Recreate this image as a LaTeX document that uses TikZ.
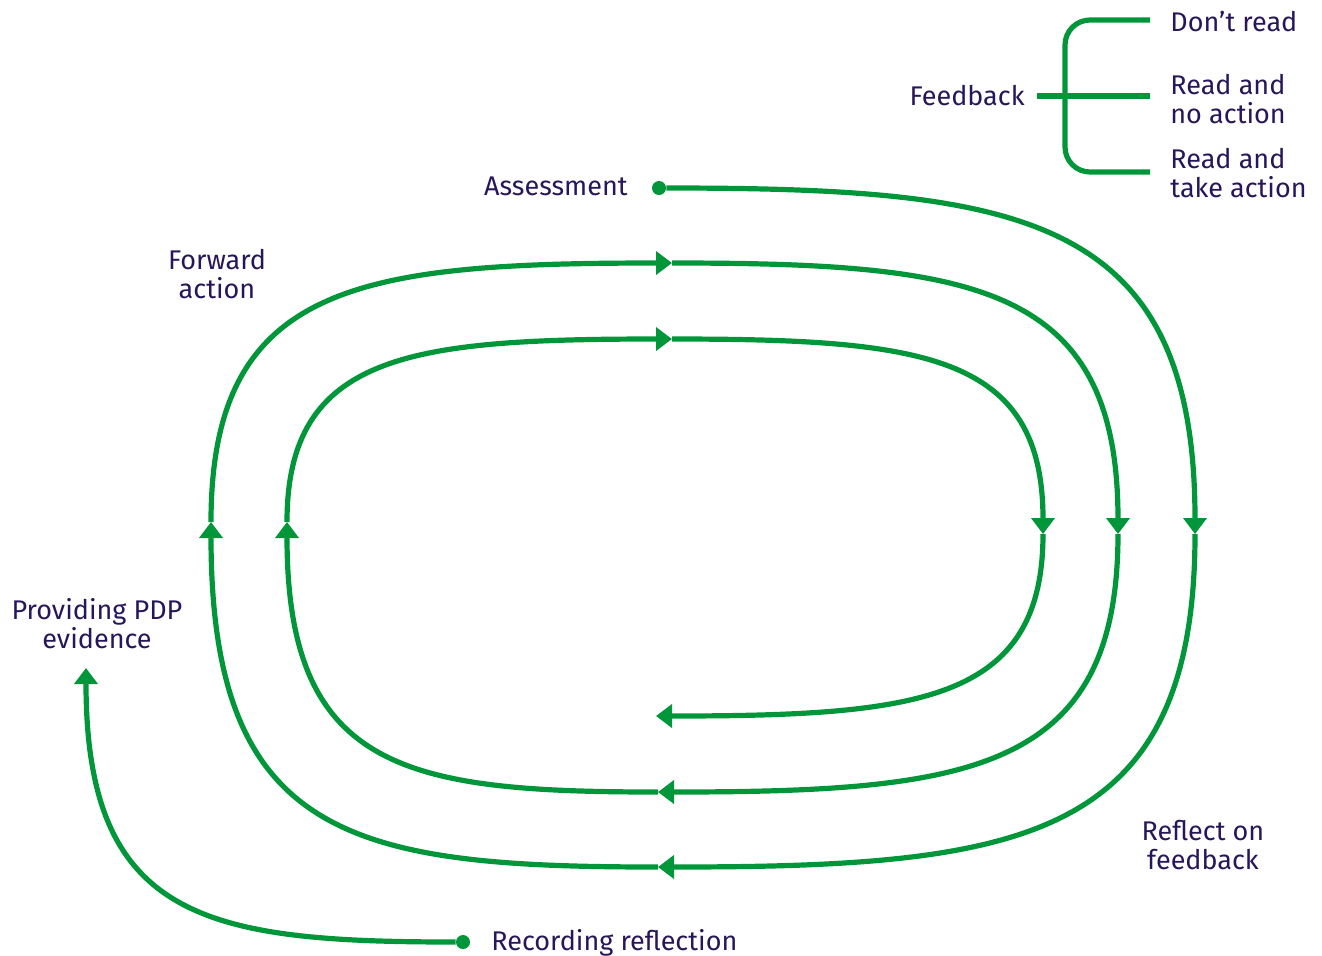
\documentclass[tikz,border=0pt]{standalone}
\usepackage{fontspec}
\setmainfont{Fira Sans}
\usetikzlibrary{arrows.meta,calc}

\definecolor{loopgreen}{RGB}{0,150,57}
\definecolor{labelink}{RGB}{40,22,90}

\tikzset{
  loopline/.style={draw=loopgreen, line width=2.6pt},
  fwd/.style={loopline, -{Triangle[length=8pt,width=11.5pt]}},
  lbl/.style={text=labelink, font=\fontsize{13.5}{14.5}\selectfont, inner sep=0pt, align=center},
  dot/.style={circle, fill=loopgreen, minimum size=7pt, inner sep=0pt},
  % start runs flat, end runs upright
  bendhv/.style={to path={.. controls ($(\tikztostart)!0.68!(\tikztostart-|\tikztotarget)$)
      and ($(\tikztotarget)!0.92!(\tikztotarget|-\tikztostart)$) .. (\tikztotarget)}},
  % start runs upright, end runs flat
  bendvh/.style={to path={.. controls ($(\tikztostart)!0.92!(\tikztostart|-\tikztotarget)$)
      and ($(\tikztotarget)!0.68!(\tikztotarget-|\tikztostart)$) .. (\tikztotarget)}}
}

\begin{document}
\begin{tikzpicture}[x=0.5pt, y=-0.5pt]
    \useasboundingbox (0,0) rectangle (1322,955);

    % points where the tips sit
    \coordinate (r0) at (1195,534);
    \coordinate (r1) at (1118,534);
    \coordinate (r2) at (1043,534);
    \coordinate (b0) at (658,867);
    \coordinate (b1) at (658,792);
    \coordinate (b2) at (656,716);
    \coordinate (l0) at (211,522);
    \coordinate (l1) at (287,522);
    \coordinate (t1) at (672,263);
    \coordinate (t2) at (672,339);
    \coordinate (pdp) at (86,668);

    \node[dot] (assess) at (659,188) {};
    \node[dot] (record) at (463,942) {};

    % spiral
    \draw[fwd] (assess) to[bendhv] (r0);
    \draw[fwd] (r0) to[bendvh] (b0);
    \draw[fwd] (b0) to[bendhv] (l0);
    \draw[fwd] (l0) to[bendvh] (t1);
    \draw[fwd] (t1) to[bendhv] (r1);
    \draw[fwd] (r1) to[bendvh] (b1);
    \draw[fwd] (b1) to[bendhv] (l1);
    \draw[fwd] (l1) to[bendvh] (t2);
    \draw[fwd] (t2) to[bendhv] (r2);
    \draw[fwd] (r2) to[bendvh] (b2);
    \draw[fwd] (record) to[bendhv] (pdp);

    % feedback bracket
    \coordinate (fbstub) at (1037,96);
    \coordinate (optA) at (1150,20);
    \coordinate (optB) at (1150,96);
    \coordinate (optC) at (1150,172);
    \draw[loopline, rounded corners=12.5pt] (optA) -- (1065,20) -- (1065,172) -- (optC);
    \draw[loopline] (fbstub) -- (optB);

    % labels
    \node[lbl, anchor=base west] (dont) at (1170,31) {Don’t read};
    \node[lbl, anchor=west, align=left] (noact) at (1170,99) {Read and\\no action};
    \node[lbl, anchor=west, align=left] (takeact) at (1170,173) {Read and\\take action};
    \node[lbl, anchor=base east] (fb) at (1025,105) {Feedback};
    \node[lbl, anchor=base east] (assesstxt) at (628,195) {Assessment};
    \node[lbl] (fwdact) at (217,274) {Forward\\action};
    \node[lbl] (evid) at (97,624) {Providing PDP\\evidence};
    \node[lbl] (reflect) at (1203,845) {Reflect on\\feedback};
    \node[lbl, anchor=base west] (rectxt) at (491,950) {Recording reflection};
\end{tikzpicture}
\end{document}
